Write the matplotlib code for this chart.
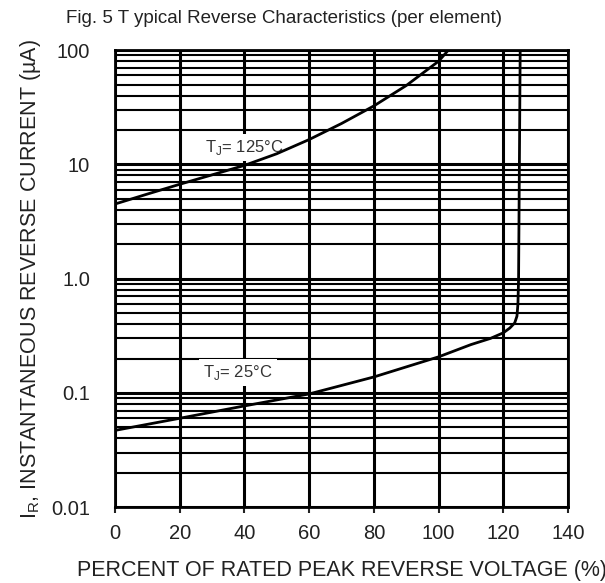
import matplotlib
matplotlib.use("Agg")
import matplotlib.pyplot as plt
from matplotlib.ticker import LogLocator, NullFormatter, FixedLocator, FixedFormatter

plt.rcParams["font.family"] = ["Liberation Sans", "DejaVu Sans"]

# ---- Data ----
v_125 = [0, 10, 20, 30, 40, 50, 60, 70, 80, 90, 100, 103]
i_125 = [4.5, 5.5, 6.7, 8.1, 9.8, 12.4, 16.5, 22.8, 32.5, 49, 80, 100]

v_25 = [0, 20, 40, 60, 80, 100, 110, 116, 120, 122, 123.5, 124.2, 124.5, 124.7, 125.2]
i_25 = [0.047, 0.060, 0.077, 0.098, 0.138, 0.207, 0.265, 0.30, 0.336, 0.37,
        0.41, 0.47, 0.6, 1.0, 100]

x_ticks = [0, 20, 40, 60, 80, 100, 120, 140]
y_ticks = [0.01, 0.1, 1, 10, 100]
y_tick_labels = ["0.01", "0.1", "1.0", "10", "100"]

# ---- Figure ----
fig = plt.figure(figsize=(6.05, 5.83), dpi=100)
ax = fig.add_axes([0.190, 0.130, 0.749, 0.784])

ax.set_yscale("log")
ax.set_xlim(0, 140)
ax.set_ylim(0.01, 100)

ax.xaxis.set_major_locator(FixedLocator(x_ticks))
ax.yaxis.set_major_locator(FixedLocator(y_ticks))
ax.yaxis.set_major_formatter(FixedFormatter(y_tick_labels))
ax.yaxis.set_minor_locator(LogLocator(base=10, subs=range(2, 10), numticks=20))
ax.yaxis.set_minor_formatter(NullFormatter())

ax.grid(which="major", axis="both", color="black", linewidth=2.2)
ax.grid(which="minor", axis="y", color="black", linewidth=1.5)

for spine in ax.spines.values():
    spine.set_linewidth(2)

ax.tick_params(axis="x", which="major", length=4, width=1.5, labelsize=14.5,
               pad=8, colors="#222222")
ax.tick_params(axis="y", which="both", length=0, labelsize=14.5, pad=18,
               colors="#222222")

# curves
ax.plot(v_125, i_125, color="black", linewidth=2, zorder=4)
ax.plot(v_25, i_25, color="black", linewidth=2, zorder=4)

ax.text(40, 14, r"T$_\mathregular{J}$= 125°C", fontsize=12, ha="center", va="center",
        color="#333333", zorder=3,
        bbox=dict(facecolor="white", edgecolor="none", pad=3))
ax.text(38, 0.15, r"T$_\mathregular{J}$= 25°C", fontsize=12, ha="center", va="center",
        color="#333333", zorder=3,
        bbox=dict(facecolor="white", edgecolor="none", pad=3))

ax.set_xlabel("PERCENT OF RATED PEAK REVERSE VOLTAGE (%)", fontsize=15.5,
              labelpad=12, color="#222222")
ax.set_ylabel(r"I$_\mathregular{R}$, INSTANTANEOUS REVERSE CURRENT (µA)",
              fontsize=15.5, labelpad=6, color="#222222")

fig.text(0.47, 0.968, "Fig. 5 T ypical Reverse Characteristics (per element)",
         fontsize=13.5, ha="center", va="center", color="#222222")

fig.savefig("out.png", dpi=100)
plt.close(fig)
